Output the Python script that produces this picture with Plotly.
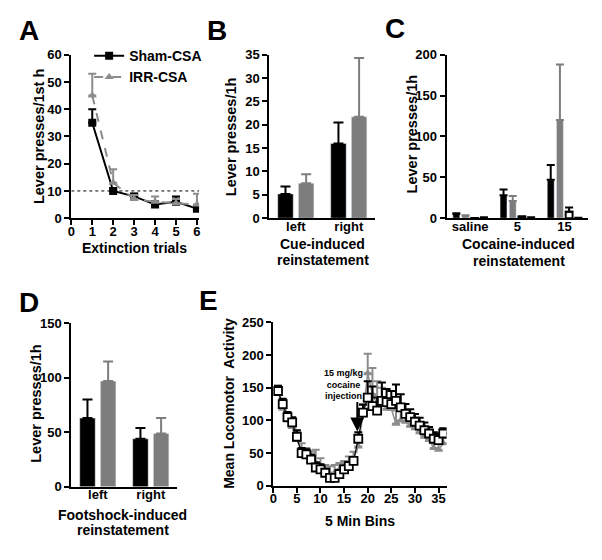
import plotly.graph_objects as go

# ---------------- data ----------------
trials = [1, 2, 3, 4, 5, 6]
sham_a = [35, 10, 8, 5, 6, 3.5]
sham_a_err = [5, 1, 1, 1, 2, 0.5]
irr_a = [45, 13, 7, 6, 5.5, 5]
irr_a_err = [8, 5, 1.5, 2, 1.5, 4]
criterion = 10

b_cats = ["left", "right"]
sham_b = [5.2, 16.0]
sham_b_err = [1.6, 4.5]
irr_b = [7.5, 21.7]
irr_b_err = [1.9, 12.6]

c_cats = ["saline", "5", "15"]
sham_c = [5, 28, 47]
sham_c_err = [1, 7, 18]
irr_c = [3, 21, 120]
irr_c_err = [0.5, 6, 68]
s3_c = [0.3, 2, 8]
s3_c_err = [0, 0, 5]
s4_c = [1, 1, 0.5]
s4_c_err = [0, 0, 0]

d_cats = ["left", "right"]
sham_d = [63, 44]
sham_d_err = [17, 10]
irr_d = [97, 49]
irr_d_err = [18, 14]

bins = list(range(1, 37))
sq = [145,125,105,97,75,50,48,40,28,25,20,12,12,18,25,30,38,72,112,135,122,115,130,128,125,130,120,110,105,98,92,85,80,72,70,80]
sq_err = [8,8,8,8,10,8,8,8,8,8,6,6,6,6,6,6,6,10,12,25,30,20,28,20,20,25,20,15,12,12,12,12,10,10,10,8]
tri = [145,118,100,90,70,55,48,40,35,30,20,18,20,25,28,35,42,60,110,172,140,125,130,118,118,95,100,98,92,88,82,75,70,58,55,65]
tri_err = [8,10,10,12,12,10,10,12,20,12,12,12,12,10,10,10,10,12,15,30,40,35,20,15,15,20,15,12,10,10,10,10,10,10,10,8]

BLACK = "#000000"
GRAY = "#7d7d7d"
LGRAY = "#8c8c8c"
FONT = "Liberation Sans, Arial, sans-serif"
W, H = 602, 560

def px_x(a, b):
    return [a / W, b / W]

def px_y(top, bottom):
    return [1 - bottom / H, 1 - top / H]

def err(arr, color, width=5, thick=2):
    return dict(type="data", array=arr, arrayminus=[0] * len(arr), symmetric=False,
                color=color, thickness=thick, width=width, visible=True)

fig = go.Figure()

# ---- Panel A ----
fig.add_trace(go.Scatter(x=trials, y=sham_a, name="Sham-CSA", mode="lines+markers",
                         line=dict(color=BLACK, width=2),
                         marker=dict(symbol="square", size=8, color=BLACK),
                         error_y=err(sham_a_err, BLACK, 4), xaxis="x", yaxis="y"))
fig.add_trace(go.Scatter(x=trials, y=irr_a, name="IRR-CSA", mode="lines+markers",
                         line=dict(color=LGRAY, width=2, dash="dash"),
                         marker=dict(symbol="triangle-up", size=8, color=LGRAY),
                         error_y=err(irr_a_err, LGRAY, 4), xaxis="x", yaxis="y"))
fig.add_shape(type="line", xref="x", yref="y", x0=0, x1=6.1, y0=criterion, y1=criterion,
              line=dict(color=BLACK, width=1, dash="dot"))

# ---- Panel B ----
fig.add_trace(go.Bar(x=b_cats, y=sham_b, marker=dict(color=BLACK), showlegend=False,
                     error_y=err(sham_b_err, BLACK), xaxis="x2", yaxis="y2"))
fig.add_trace(go.Bar(x=b_cats, y=irr_b, marker=dict(color=GRAY), showlegend=False,
                     error_y=err(irr_b_err, GRAY), xaxis="x2", yaxis="y2"))

# ---- Panel C ----
fig.add_trace(go.Bar(x=c_cats, y=sham_c, marker=dict(color=BLACK), showlegend=False,
                     error_y=err(sham_c_err, BLACK, 4), xaxis="x3", yaxis="y3"))
fig.add_trace(go.Bar(x=c_cats, y=irr_c, marker=dict(color=GRAY), showlegend=False,
                     error_y=err(irr_c_err, GRAY, 4), xaxis="x3", yaxis="y3"))
fig.add_trace(go.Bar(x=c_cats, y=s3_c, marker=dict(color="white", line=dict(color=BLACK, width=2)),
                     showlegend=False, error_y=err(s3_c_err, BLACK, 4), xaxis="x3", yaxis="y3"))
fig.add_trace(go.Bar(x=c_cats, y=s4_c, marker=dict(color=BLACK), showlegend=False,
                     error_y=err(s4_c_err, BLACK, 4), xaxis="x3", yaxis="y3"))

# ---- Panel D ----
fig.add_trace(go.Bar(x=d_cats, y=sham_d, marker=dict(color=BLACK), showlegend=False,
                     error_y=err(sham_d_err, BLACK), xaxis="x4", yaxis="y4"))
fig.add_trace(go.Bar(x=d_cats, y=irr_d, marker=dict(color=GRAY), showlegend=False,
                     error_y=err(irr_d_err, GRAY), xaxis="x4", yaxis="y4"))

# ---- Panel E ----
fig.add_trace(go.Scatter(x=bins, y=tri, mode="lines+markers", showlegend=False,
                         line=dict(color=LGRAY, width=1.5),
                         marker=dict(symbol="triangle-up", size=8, color=LGRAY),
                         error_y=err(tri_err, LGRAY, 4), xaxis="x5", yaxis="y5"))
fig.add_trace(go.Scatter(x=bins, y=sq, mode="lines+markers", showlegend=False,
                         line=dict(color=BLACK, width=1.2),
                         marker=dict(symbol="square", size=8, color="white",
                                     line=dict(width=1.8, color=BLACK)),
                         error_y=err(sq_err, BLACK, 4), xaxis="x5", yaxis="y5"))

tickfont = dict(family=FONT, size=13, color=BLACK, weight="bold")
axis_common = dict(showline=True, linecolor=BLACK, linewidth=2, ticks="outside", ticklen=5,
                   tickwidth=2, tickcolor=BLACK, showgrid=False, zeroline=False,
                   tickfont=tickfont, fixedrange=True)
xaxis_common = dict(axis_common, ticklabelstandoff=-5)

layout = dict(
    width=W, height=H, margin=dict(l=0, r=0, t=0, b=0),
    paper_bgcolor="white", plot_bgcolor="white",
    font=dict(family=FONT, color=BLACK),
    barmode="group",
    showlegend=True,
    legend=dict(x=86 / W, y=1 - 34 / H, xanchor="left", yanchor="top",
                font=dict(family=FONT, size=14, weight="bold", color=BLACK),
                bgcolor="rgba(0,0,0,0)", tracegroupgap=0, itemwidth=30),
)

layout["xaxis"] = dict(xaxis_common, domain=px_x(68, 197), range=[0, 6.1], tickvals=[0, 1, 2, 3, 4, 5, 6],
                       anchor="y")
layout["yaxis"] = dict(axis_common, domain=px_y(49, 217), range=[0, 60], tickvals=[0, 10, 20, 30, 40, 50, 60],
                       anchor="x")
layout["xaxis2"] = dict(xaxis_common, domain=px_x(268, 375), range=[-0.5, 1.5], ticks="", anchor="y2")
layout["yaxis2"] = dict(axis_common, domain=px_y(49, 217), range=[0, 35], dtick=5, anchor="x2")
layout["xaxis3"] = dict(xaxis_common, domain=px_x(447, 590), range=[-0.5, 2.5], ticks="", anchor="y3")
layout["yaxis3"] = dict(axis_common, domain=px_y(49, 217), range=[0, 200], dtick=50, anchor="x3")
layout["xaxis4"] = dict(xaxis_common, domain=px_x(68, 175), range=[-0.5, 1.5], ticks="", anchor="y4")
layout["yaxis4"] = dict(axis_common, domain=px_y(325, 493), range=[0, 150], dtick=50, anchor="x4")
layout["xaxis5"] = dict(xaxis_common, domain=px_x(272, 447), range=[0, 36.7], dtick=5, anchor="y5")
layout["yaxis5"] = dict(axis_common, domain=px_y(324, 492), range=[0, 250], dtick=50, anchor="x5")

fig.update_layout(**layout)
fig.update_layout(bargap=0.22, bargroupgap=0.25)

ann = []
def txt(x, y, s, size=13, angle=0, bold=True):
    ann.append(dict(x=x / W, y=1 - y / H, xref="paper", yref="paper", text=s, showarrow=False,
                    textangle=angle, xanchor="center", yanchor="middle",
                    font=dict(family=FONT, size=size, color=BLACK, weight="bold" if bold else "normal")))

# panel letters
txt(25, 24, "A", 28)
txt(215, 24, "B", 28)
txt(395, 22, "C", 28)
txt(25, 304, "D", 28)
txt(207, 302, "E", 28)

# axis titles
txt(36, 133, "Lever presses/1st h", 14.5, -90)
txt(132, 248, "Extinction trials", 14)
txt(230, 133, "Lever presses/1h", 14.5, -90)
txt(322, 244, "Cue-induced", 14)
txt(322, 260, "reinstatement", 14)
txt(412, 130, "Lever presses/1h", 14.5, -90)
txt(520, 244, "Cocaine-induced", 14)
txt(520, 261, "reinstatement", 14)
txt(32, 407, "Lever presses/1h", 14.5, -90)
txt(120, 522, "Footshock-induced", 14)
txt(120, 537, "reinstatement", 14)
txt(227, 407, "Mean Locomotor  Activity", 14, -90)
txt(360, 528, "5 Min Bins", 14)

# injection annotation
ann.append(dict(x=343 / W, y=1 - 388 / H, xref="paper", yref="paper",
                text="15 mg/kg<br>cocaine<br>injection", showarrow=False,
                xanchor="center", yanchor="middle",
                font=dict(family="Liberation Sans Narrow, Liberation Sans, Arial", size=9,
                          color=BLACK, weight="bold")))
ann.append(dict(x=17.8, y=83, xref="x5", yref="y5", text="", showarrow=True,
                ax=0, ay=-31, arrowhead=2, arrowsize=1.4, arrowwidth=2, arrowcolor=BLACK))

fig.update_layout(annotations=ann)

fig.write_html("out.html", config={"displayModeBar": False},
               post_script="document.body.style.margin='0';")
